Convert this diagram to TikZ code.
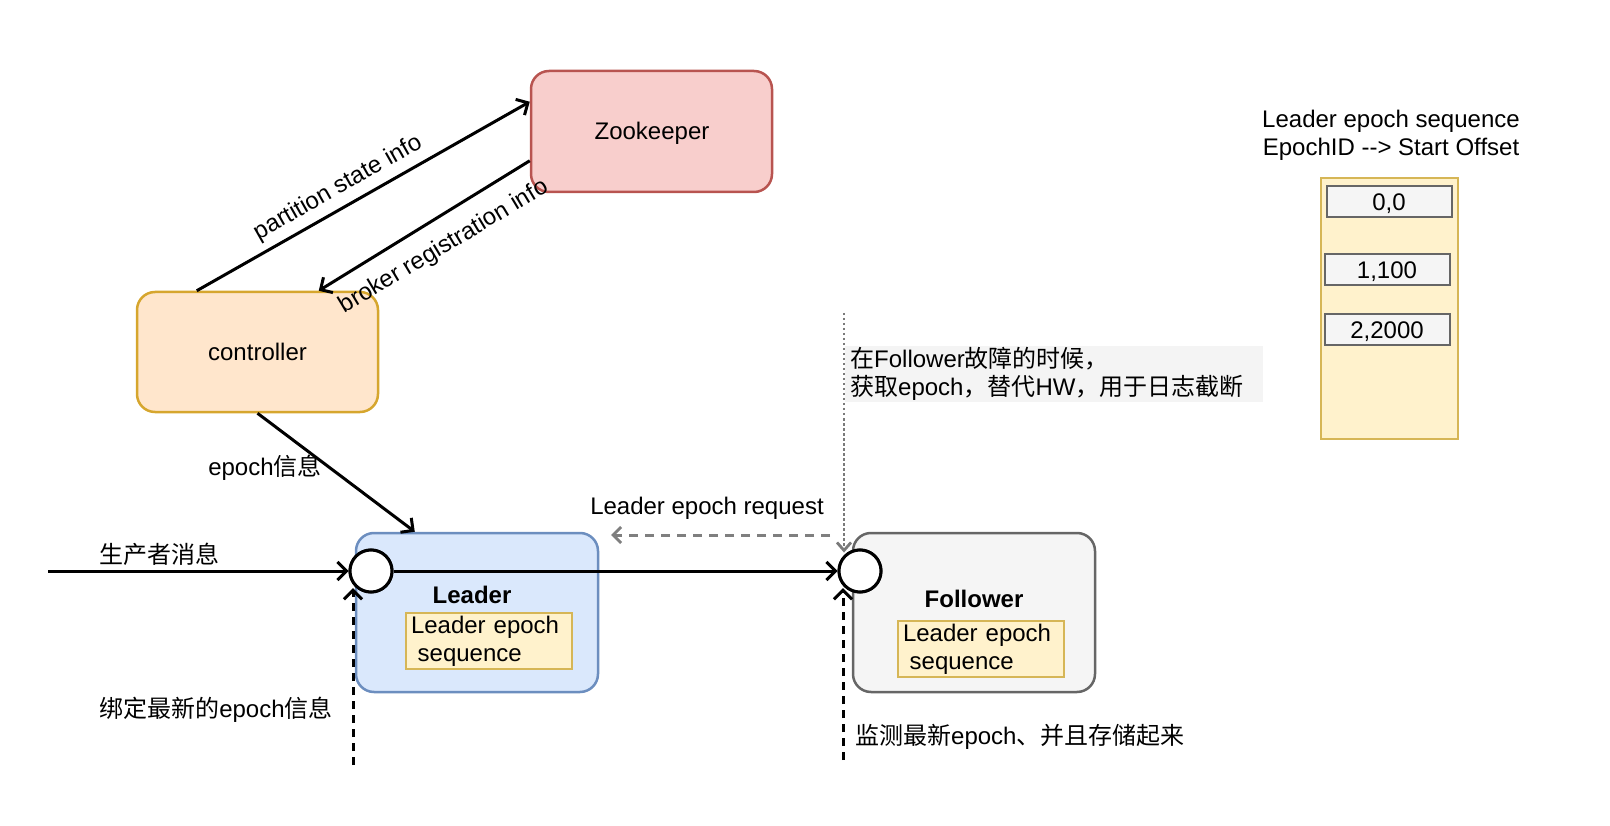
\documentclass[tikz,border=0pt]{standalone}
\usepackage{fontspec}
\setmainfont{Liberation Sans}
\newfontfamily\cjk{Noto Sans CJK SC}
\usetikzlibrary{arrows.meta,calc}
\definecolor{zkfill}{HTML}{F8CECC}
\definecolor{zkdraw}{HTML}{B85450}
\definecolor{ctfill}{HTML}{FFE6CC}
\definecolor{ctdraw}{HTML}{D6A62E}
\definecolor{ldfill}{HTML}{DAE8FC}
\definecolor{lddraw}{HTML}{6C8EBF}
\definecolor{fwfill}{HTML}{F5F5F5}
\definecolor{fwdraw}{HTML}{666666}
\definecolor{ylfill}{HTML}{FFF2CC}
\definecolor{yldraw}{HTML}{D6B656}
\definecolor{notebg}{HTML}{F4F4F4}
\definecolor{reqgray}{HTML}{7F7F7F}
\definecolor{dotgray}{HTML}{7A7A7A}
\begin{document}
\begin{tikzpicture}[x=1pt,y=-1pt,
  every node/.style={font=\fontsize{24}{28}\selectfont, text=black},
  rbox/.style={draw, rounded corners=18pt, line width=2.5pt, inner sep=0pt},
  seqbox/.style={draw=yldraw, fill=ylfill, line width=1.5pt, minimum width=166pt, minimum height=56pt, inner xsep=5pt, inner ysep=0pt, text width=156pt, align=left},
  itembox/.style={draw=fwdraw, fill=fwfill, line width=2pt, minimum width=125pt, minimum height=31pt, inner sep=0pt},
  port/.style={circle, draw=black, fill=white, line width=3pt, minimum size=42pt, inner sep=0pt},
  tip/.style={-{Straight Barb[length=9pt,width=18pt]}},
  conn/.style={line width=3pt, tip},
  dashconn/.style={line width=3pt, tip, dash pattern=on 8pt off 6pt},
  reqconn/.style={line width=3pt, draw=reqgray, -{Straight Barb[length=8pt,width=16pt]}, dash pattern=on 9pt off 7pt},
  dotconn/.style={line width=2.8pt, draw=dotgray, -{Straight Barb[length=8pt,width=14pt]}, dash pattern=on 2.5pt off 2.5pt},
  lbl/.style={inner sep=0pt}
]
\useasboundingbox (0,0) rectangle (1610,826);

% main boxes
\node[rbox, draw=zkdraw, fill=zkfill, minimum width=241pt, minimum height=121pt] (zk) at (651.5,131.5) {};
\node[lbl] (zkt) at (652,133) {Zookeeper};
\node[rbox, draw=ctdraw, fill=ctfill, minimum width=241pt, minimum height=120pt] (ctl) at (257.5,352) {controller};
\node[rbox, draw=lddraw, fill=ldfill, minimum width=242pt, minimum height=159pt] (L) at (477,612.5) {};
\node[rbox, draw=fwdraw, fill=fwfill, minimum width=242pt, minimum height=159pt] (F) at (974,612.5) {};

\node[lbl, font=\fontsize{24}{28}\selectfont\bfseries] (Lt) at (472,595) {Leader};
\node[lbl, font=\fontsize{24}{28}\selectfont\bfseries] (Ft) at (974,599) {Follower};
\node[seqbox] (Li) at (489,641) {Leader epoch\\\hspace*{6.7pt}sequence};
\node[seqbox] (Fi) at (981,649) {Leader epoch\\\hspace*{6.7pt}sequence};

% note
\node[fill=notebg, anchor=north west, minimum width=418pt, minimum height=56pt, text width=408pt, inner xsep=5pt, inner ysep=0pt, align=left] (note) at (845,346)
  {{\cjk 在}Follower{\cjk 故障的时候，}\\{\cjk 获取}epoch{\cjk ，替代}HW{\cjk ，用于日志截断}};

% right side sequence
\node[lbl, align=center] (seqt) at (1391,135) {Leader epoch sequence\\EpochID {-}{-}> Start Offset};
\node[draw=yldraw, fill=ylfill, line width=2pt, minimum width=137pt, minimum height=261pt, inner sep=0pt] (seq) at (1389.5,308.5) {};
\node[itembox] (s0) at (1389,202) {};
\node[itembox] (s1) at (1387,270) {};
\node[itembox] (s2) at (1387,330) {};
\node[lbl] (s0t) at (1389,204) {0,0};
\node[lbl] (s1t) at (1387,272) {1,100};
\node[lbl] (s2t) at (1387,332) {2,2000};

% ports
\node[port] (Lc) at (371,571) {};
\node[port] (Fc) at (860,571) {};

% coordinates for free ends
\coordinate (prod) at (48,571);
\coordinate (lbot) at (353,765);
\coordinate (fbot) at (843,760);
\coordinate (dtop) at (844,313);
\coordinate (rqs) at (830,535);
\coordinate (rqe) at (611,535);

% connectors
\draw[conn] ([xshift=61pt]ctl.north west) -- ([yshift=-32pt]zk.north west);
\draw[conn] ([yshift=-91pt]zk.north west) -- ([xshift=183pt]ctl.north west);
\draw[conn] (ctl.south) -- ([xshift=60pt]L.north west);
\draw[conn] (prod) -- (Lc.west);
\draw[conn] (Lc.east) -- (Fc.west);
\draw[dashconn] (lbot) -- (lbot |- Lc.230);
\draw[dashconn] (fbot) -- (fbot |- Fc.230);
\draw[dotconn] (dtop) -- (dtop |- Fc.125);
\draw[reqconn] (rqs) -- (rqe);

% redraw ports on top
\node[port] at (Lc) {};
\node[port] at (Fc) {};

% labels
\node[lbl, rotate=29.6] (lp) at (338,188) {partition state info};
\node[lbl, rotate=31] (lb) at (444,247) {broker registration info};
\node[lbl] (le) at (265,468) {epoch{\cjk 信息}};
\node[lbl] (lpr) at (159,554) {\cjk 生产者消息};
\node[lbl] (lbd) at (216,710) {{\cjk 绑定最新的}epoch{\cjk 信息}};
\node[lbl, anchor=west] (lmo) at (855,737) {{\cjk 监测最新}epoch{\cjk 、并且存储起来}};
\node[lbl] (lrq) at (707,508) {Leader epoch request};
\end{tikzpicture}
\end{document}
